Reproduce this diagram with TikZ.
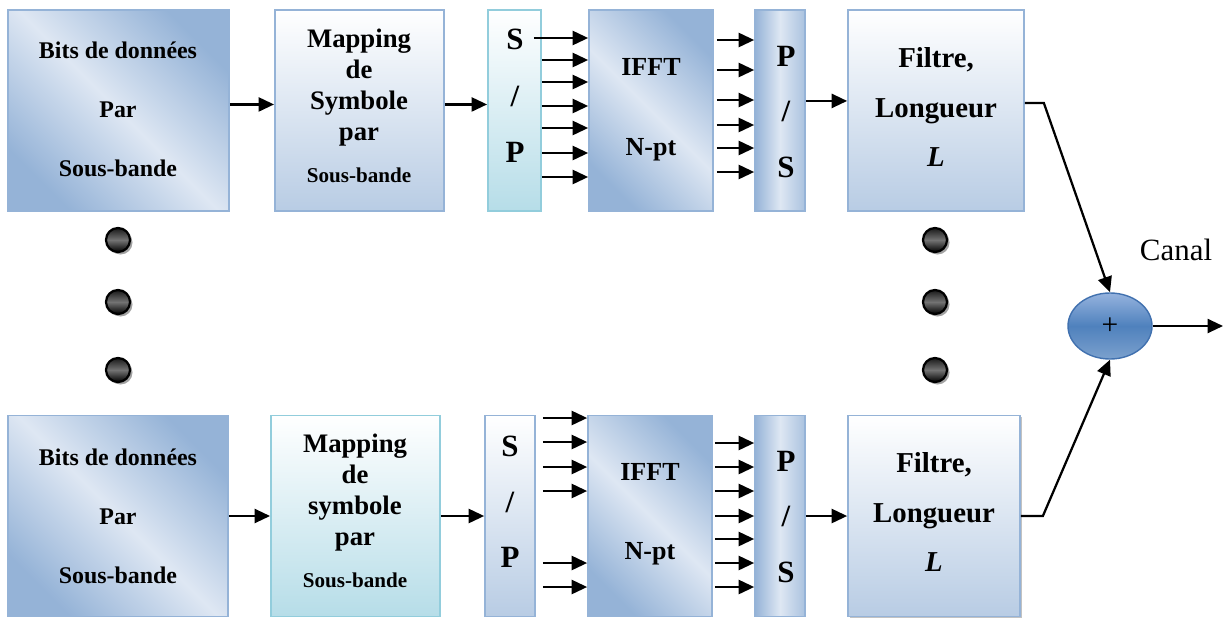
\documentclass[tikz,border=0pt]{standalone}
\usepackage{fontspec}
\setmainfont{Liberation Serif}
\usetikzlibrary{arrows.meta,shapes.geometric,shadows}

\definecolor{bxdark}{RGB}{149,179,215}
\definecolor{bxlight}{RGB}{222,231,243}
\definecolor{bxbot}{RGB}{184,204,228}
\definecolor{cybord}{RGB}{146,205,220}
\definecolor{cybot}{RGB}{182,221,232}
\definecolor{sumtop}{RGB}{149,179,222}
\definecolor{summid}{RGB}{79,129,189}
\definecolor{sumbord}{RGB}{65,113,175}

\tikzset{
    box/.style={draw=bxdark, line width=1.2pt, inner sep=0pt, minimum height=5.03cm},
    diag/.style={box, left color=bxdark, right color=bxdark, middle color=bxlight, shading angle=135},
    vert/.style={box, top color=white, bottom color=bxbot},
    cyanbox/.style={box, draw=cybord, top color=white, bottom color=cybot},
    side/.style={box, left color=bxdark, right color=bxdark!80, middle color=bxlight},
    lbl/.style={align=center, inner sep=0pt},
    arr/.style={line width=1.6pt, -{Triangle[length=11pt,width=10pt]}},
    ball/.style={circle, draw=black, line width=1.6pt, minimum size=0.6cm, inner sep=0pt,
        top color=black!90, bottom color=black, middle color=black!55,
        drop shadow={shadow xshift=1.8pt, shadow yshift=-1.8pt, fill=black!45, opacity=.8}},
    adder/.style={ellipse, draw=sumbord, line width=1pt, minimum width=2.1cm, minimum height=1.65cm,
        top color=sumtop, bottom color=summid!75!white, middle color=summid, inner sep=0pt},
}

\begin{document}
\begin{tikzpicture}[x=0.025cm, y=-0.025cm]
\useasboundingbox (0,0) rectangle (1223,619);

% upper branch
\node[diag, minimum width=5.53cm] (bits1) at (118.5,110.5) {};
\node[vert, minimum width=4.23cm] (map1) at (359.5,110.5) {};
\node[cyanbox, minimum width=1.33cm] (sp1) at (514.5,110.5) {};
\node[diag, minimum width=3.1cm] (ifft1) at (651,110.5) {};
\node[side, minimum width=1.25cm] (ps1) at (780,110.5) {};
\node[vert, minimum width=4.4cm] (filt1) at (936,110.5) {};

\node[lbl, font=\bfseries\fontsize{17}{42}\selectfont] (tbits1) at (118,109) {Bits de données\\Par\\Sous-bande};
\node[lbl, font=\bfseries\fontsize{19}{22}\selectfont] (tmap1) at (359,106)
    {Mapping\\de\\Symbole\\par\\[8pt]{\fontsize{15}{18}\selectfont Sous-bande}};
\node[lbl, font=\bfseries\fontsize{22}{40}\selectfont] (tsp1) at (515,96) {S\\/\\P};
\node[lbl, font=\bfseries\fontsize{18.5}{57}\selectfont] (tifft1) at (651,110) {IFFT\\N-pt};
\node[lbl, font=\bfseries\fontsize{22}{39.5}\selectfont] (tps1) at (786,112) {P\\/\\S};
\node[lbl, font=\bfseries\fontsize{20.5}{35.5}\selectfont] (tfilt1) at (936,107) {Filtre,\\Longueur\\\textit{L}};

\draw[arr] ([yshift=4.3pt]bits1.east) -- ([yshift=4.3pt]map1.west);
\draw[arr] ([yshift=4.3pt]map1.east) -- ([yshift=4.3pt]sp1.west);
\draw[arr] (sp1.east |- 0,38) ++(-8,0) -- (ifft1.west |- 0,38);
\foreach \y in {60,82,106,128,153,177}
    \draw[arr] (sp1.east |- 0,\y) -- (ifft1.west |- 0,\y);
\foreach \y in {40,70,100,125,148,172}
    \draw[arr] (ifft1.east |- 0,\y) ++(3,0) -- (ps1.west |- 0,\y);
\draw[arr] ([yshift=6.8pt]ps1.east) -- ([yshift=6.8pt]filt1.west);

% lower branch
\node[diag, minimum width=5.5cm] (bits2) at (118,516) {};
\node[cyanbox, minimum width=4.23cm] (map2) at (355.5,516) {};
\node[vert, minimum width=1.25cm] (sp2) at (510,516) {};
\node[diag, minimum width=3.1cm] (ifft2) at (650,516) {};
\node[side, minimum width=1.25cm] (ps2) at (780,516) {};
\node[vert, minimum width=4.3cm, drop shadow={shadow xshift=1.2pt, shadow yshift=-1.2pt, fill=black!40, opacity=.6}] (filt2) at (934,516) {};

\node[lbl, font=\bfseries\fontsize{17}{42}\selectfont] (tbits2) at (118,516) {Bits de données\\Par\\Sous-bande};
\node[lbl, font=\bfseries\fontsize{19}{22}\selectfont] (tmap2) at (355,511)
    {Mapping\\de\\symbole\\par\\[8pt]{\fontsize{15}{18}\selectfont Sous-bande}};
\node[lbl, font=\bfseries\fontsize{22}{39.5}\selectfont] (tsp2) at (510,502) {S\\/\\P};
\node[lbl, font=\bfseries\fontsize{18.5}{56}\selectfont] (tifft2) at (650,514) {IFFT\\N-pt};
\node[lbl, font=\bfseries\fontsize{22}{39.5}\selectfont] (tps2) at (786,517) {P\\/\\S};
\node[lbl, font=\bfseries\fontsize{20.5}{35}\selectfont] (tfilt2) at (934,512) {Filtre,\\Longueur\\\textit{L}};

\draw[arr] (bits2.east) -- (map2.west);
\draw[arr] (map2.east) -- (sp2.west);
\foreach \y in {418,442,467,491,563,587}
    \draw[arr] (sp2.east |- 0,\y) ++(7,0) -- (ifft2.west |- 0,\y);
\foreach \y in {443,467,491,516,539,563,587}
    \draw[arr] (ifft2.east |- 0,\y) ++(2,0) -- (ps2.west |- 0,\y);
\draw[arr] (ps2.east) -- (filt2.west);

% dots between the branches
\foreach \y [count=\i] in {240,302,370} {
    \node[ball] (dl\i) at (118,\y) {};
    \node[ball] (dr\i) at (935,\y) {};
}

% summation and channel
\node[adder, font=\fontsize{21}{24}\selectfont] (adder) at (1110,326) {\raisebox{-3pt}{+}};
\coordinate (out) at (1223,326);
\node[font=\fontsize{22}{26}\selectfont] (canal) at (1176,250) {Canal};

\draw[arr] ([yshift=5.3pt]filt1.east) -- ++(19,0) -- (adder.north);
\draw[arr] (filt2.east) -- ++(22,0) -- (adder.south);
\draw[arr] (adder.east) -- (out);
\end{tikzpicture}
\end{document}
